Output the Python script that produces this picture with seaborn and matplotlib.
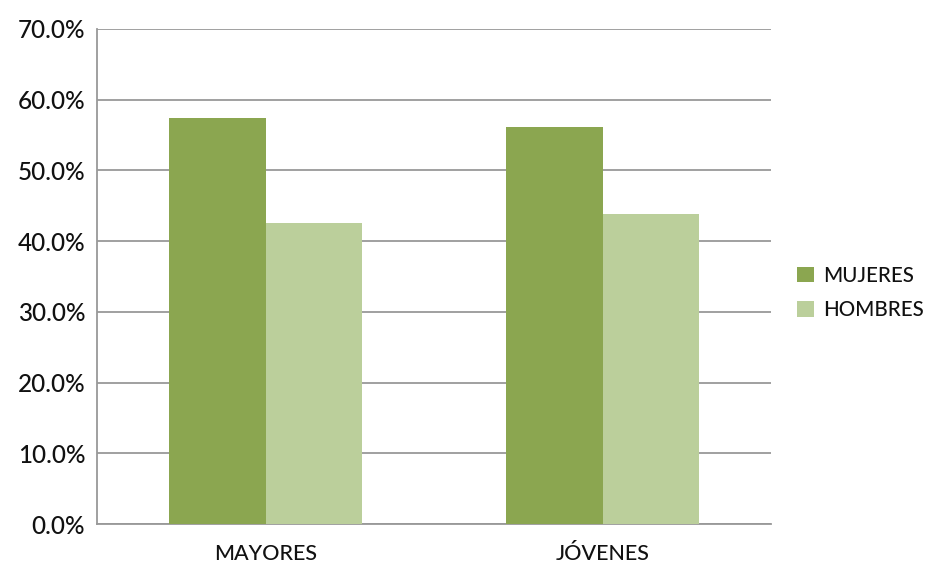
import matplotlib
matplotlib.use("Agg")
import matplotlib.pyplot as plt
import seaborn as sns
import pandas as pd
from matplotlib.ticker import PercentFormatter

categories = ["MAYORES", "JÓVENES"]
series = ["MUJERES", "HOMBRES"]
mujeres = [57.4, 56.2]
hombres = [42.6, 43.8]
colors = ["#8BA650", "#BBCF9B"]

df = pd.DataFrame({
    "cat": categories * 2,
    "serie": [series[0]] * 2 + [series[1]] * 2,
    "val": mujeres + hombres,
})

sns.set_style("white")
plt.rcParams["font.family"] = ["Lato", "DejaVu Sans"]
plt.rcParams["font.weight"] = "medium"
plt.rcParams["text.color"] = "#111111"

fig = plt.figure(figsize=(9.29, 5.63), dpi=100)
ax = fig.add_axes([97/929, 1 - 524/563, (771-97)/929, (524-29)/563])

sns.barplot(data=df, x="cat", y="val", hue="serie", palette=colors,
            width=0.575, order=categories, hue_order=series, ax=ax,
            saturation=1, zorder=3, linewidth=0)

grid_c = "#999999"
ax.set_ylim(0, 70)
ax.set_xlim(-0.5, 1.5)
ax.set_yticks(range(0, 71, 10))
ax.yaxis.set_major_formatter(PercentFormatter(decimals=1))
ax.yaxis.grid(True, color=grid_c, linewidth=1.3, zorder=0)
ax.set_axisbelow(True)

ax.set_xticks([-0.5, 0.5, 1.5])
ax.set_xticklabels(["", "", ""])
ax.set_xticks([0, 1], minor=True)
ax.set_xticklabels(categories, minor=True)
ax.tick_params(axis="x", which="minor", length=0, pad=14.5, labelsize=15.5, labelcolor="#111111")
ax.tick_params(axis="x", which="major", length=8, width=1.3, color=grid_c, direction="out")
ax.tick_params(axis="y", length=5.5, width=1.3, color=grid_c, direction="out", labelsize=17.5, pad=3, labelcolor="#111111")

for s in ["top", "right"]:
    ax.spines[s].set_visible(False)
for s in ["left", "bottom"]:
    ax.spines[s].set_color(grid_c)
    ax.spines[s].set_linewidth(1.3)

ax.set_xlabel("")
ax.set_ylabel("")

leg = ax.legend(loc="center left", bbox_to_anchor=(797/929, 1 - 293/563),
                bbox_transform=fig.transFigure, frameon=False,
                fontsize=14.8, handlelength=0.85, handleheight=0.75,
                handletextpad=0.4, labelspacing=0.7, borderpad=0, borderaxespad=0)

fig.savefig("out.png", dpi=100)
